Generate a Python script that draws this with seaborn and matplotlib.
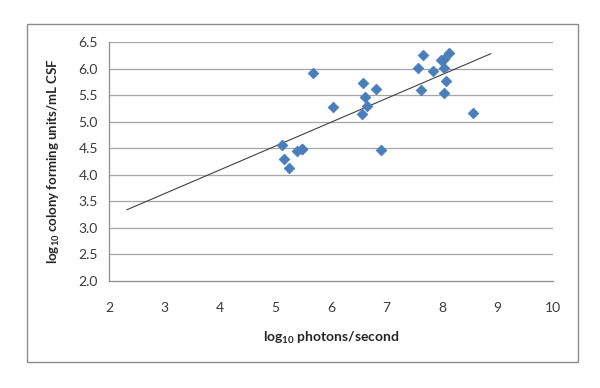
import numpy as np
import pandas as pd
import matplotlib
matplotlib.use("Agg")
import matplotlib.pyplot as plt
import seaborn as sns
from matplotlib.patches import Rectangle

# values
photons = [5.11, 5.15, 5.24, 5.38, 5.48, 5.48, 5.68, 6.03, 6.56, 6.58, 6.62,
           6.64, 6.81, 6.90, 7.57, 7.63, 7.65, 7.83, 7.99, 8.04, 8.04, 8.04,
           8.08, 8.12, 8.56]
cfu = [4.57, 4.30, 4.13, 4.44, 4.49, 4.48, 5.91, 5.28, 5.15, 5.73, 5.47,
       5.30, 5.62, 4.46, 6.01, 5.59, 6.26, 5.96, 6.16, 6.18, 6.01, 5.54,
       5.77, 6.30, 5.16]
trend_x = [2.32, 8.88]
trend_y = [3.34, 6.28]

x_ticks = [2, 3, 4, 5, 6, 7, 8, 9, 10]
y_ticks = [2.0, 2.5, 3.0, 3.5, 4.0, 4.5, 5.0, 5.5, 6.0, 6.5]

df = pd.DataFrame({"photons": photons, "cfu": cfu})

sns.set_style("white")
plt.rcParams['font.family'] = ['Lato', 'DejaVu Sans']
plt.rcParams['mathtext.fontset'] = 'custom'
plt.rcParams['mathtext.rm'] = 'Lato:bold'
plt.rcParams['mathtext.bf'] = 'Lato:bold'

fig = plt.figure(figsize=(6, 3.88), dpi=100)
fig.patches.append(Rectangle((27 / 600, 1 - 362 / 388), 551 / 600, 338 / 388,
                             transform=fig.transFigure, fill=False,
                             edgecolor='#8c8c8c', linewidth=1.0))
ax = fig.add_axes([109 / 600, 1 - 281 / 388, 444 / 600, 239 / 388])

for yv in y_ticks[1:]:
    ax.axhline(yv, color='#a6a6a6', linewidth=0.9, zorder=0)

sns.lineplot(x=trend_x, y=trend_y, color='#404040', linewidth=0.8, ax=ax, zorder=2)
sns.scatterplot(data=df, x='photons', y='cfu', marker='D', s=30, color='#4a7ebb',
                edgecolor='#4a7ebb', linewidth=0.5, ax=ax, zorder=3)

ax.set_xlim(2, 10)
ax.set_ylim(2, 6.5)
ax.set_xticks(x_ticks)
ax.set_yticks(y_ticks)
ax.set_xticklabels([str(v) for v in x_ticks])
ax.set_yticklabels([f"{v:.1f}" for v in y_ticks])

for side in ['top', 'right']:
    ax.spines[side].set_visible(False)
for side in ['left', 'bottom']:
    ax.spines[side].set_color('#8c8c8c')
    ax.spines[side].set_linewidth(0.9)

ax.tick_params(axis='both', which='major', direction='out', length=4, width=0.9,
               color='#8c8c8c', labelsize=10, labelcolor='#3a3a3a', pad=4)
ax.tick_params(axis='x', pad=11)

ax.set_xlabel(r'log$_{10}$ photons/second', fontsize=10, fontweight='bold')
ax.set_ylabel(r'log$_{10}$ colony forming units/mL CSF', fontsize=9.5,
              fontweight='bold')
ax.xaxis.set_label_coords(222 / 444, -49 / 239)
ax.yaxis.set_label_coords(-47 / 444, 0.5)

fig.savefig('out.png', dpi=100)
